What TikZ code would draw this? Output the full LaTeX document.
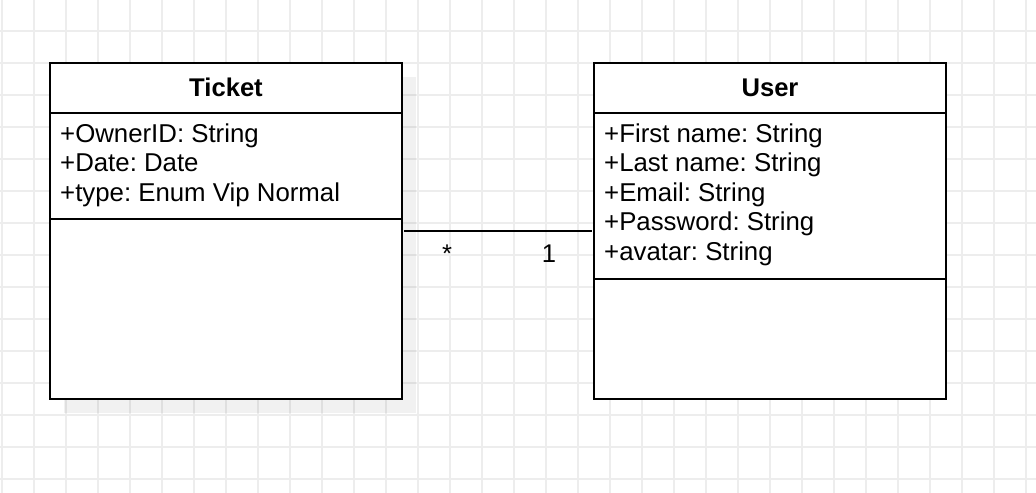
\documentclass[tikz,border=0pt]{standalone}
\usepackage{fontspec}
\setmainfont{Liberation Sans}
\frenchspacing
\begin{document}
\begin{tikzpicture}[x=1bp,y=-1bp,
  classbox/.style={draw=black, line width=2.2bp, fill=white, minimum width=352bp,
    minimum height=336bp, inner sep=0pt, outer sep=0pt, anchor=north west},
  divider/.style={line width=2.2bp},
  classtitle/.style={font=\fontsize{25.6bp}{30bp}\selectfont\bfseries, anchor=base, inner sep=0pt},
  attr/.style={font=\fontsize{25.8bp}{30bp}\selectfont, anchor=base west, inner sep=0pt},
  mult/.style={font=\fontsize{25.6bp}{30bp}\selectfont, inner sep=0pt},
  gridline/.style={draw=black!7, line width=1.6bp},
  assoc/.style={draw=black, line width=2bp}]

% canvas and background grid
\useasboundingbox (0,0) rectangle (1036,493);
\fill[white] (0,0) rectangle (1036,493);
\foreach \gx in {2,34,...,1026} \draw[gridline] (\gx,0) -- (\gx,493);
\foreach \gy in {31,63,...,479} \draw[gridline] (0,\gy) -- (1036,\gy);

% drop shadow of the Ticket class
\fill[black, opacity=0.055] (64,77) rectangle (416,413);

% Ticket class
\node[classbox] (ticket) at (50,63) {};
\node[classtitle] (tickettitle) at (226,97) {Ticket};
\draw[divider] (ticket.west |- 0,113) -- (ticket.east |- 0,113);
\node[attr] (t1) at (60,142.5) {+OwnerID: String};
\node[attr] (t2) at (60,172) {+Date: Date};
\node[attr] (t3) at (60,201.5) {+type: Enum Vip Normal};
\draw[divider] (ticket.west |- 0,219) -- (ticket.east |- 0,219);

% User class
\node[classbox] (user) at (594,63) {};
\node[classtitle] (usertitle) at (770,97) {User};
\draw[divider] (user.west |- 0,113) -- (user.east |- 0,113);
\node[attr] (u1) at (604,142.5) {+First name: String};
\node[attr] (u2) at (604,172) {+Last name: String};
\node[attr] (u3) at (604,201.5) {+Email: String};
\node[attr] (u4) at (604,231) {+Password: String};
\node[attr] (u5) at (604,260.5) {+avatar: String};
\draw[divider] (user.west |- 0,279) -- (user.east |- 0,279);

% association with multiplicities
\draw[assoc] ([xshift=2bp]ticket.east) -- ([xshift=-2bp]user.west);
\node[mult] (manyend) at (447,254) {*};
\node[mult] (oneend) at (549,254) {1};
\end{tikzpicture}
\end{document}
